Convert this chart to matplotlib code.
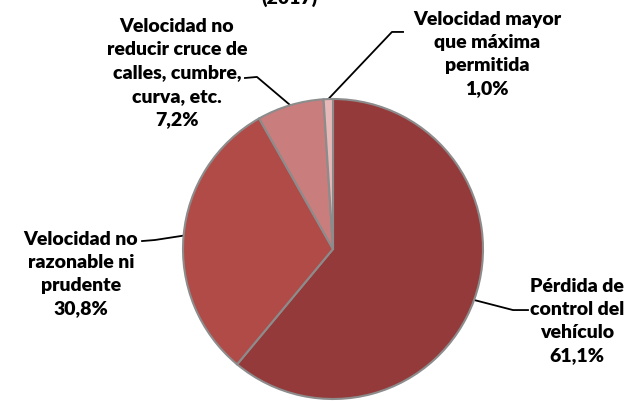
import matplotlib
matplotlib.use("Agg")
import matplotlib.pyplot as plt
import numpy as np

# porcentajes por causa (2017)
causas = ["Pérdida de\ncontrol del\nvehículo",
          "Velocidad no\nrazonable ni\nprudente",
          "Velocidad no\nreducir cruce de\ncalles, cumbre,\ncurva, etc.",
          "Velocidad mayor\nque máxima\npermitida"]
porcentajes = [61.1, 30.8, 7.2, 1.0]
etiquetas_pct = ["61,1%", "30,8%", "7,2%", "1,0%"]
colores = ["#953A3A", "#B04B48", "#C97D7C", "#E6B9B8"]

plt.rcParams['font.family'] = ['Lato', 'DejaVu Sans']

fig = plt.figure(figsize=(6.39, 4.02), dpi=100)
# centro del pastel ~ (333, 251) px, radio 150 px
ax = fig.add_axes([183 / 639, 2 / 402, 300 / 639, 300 / 402])
wedges, _ = ax.pie(porcentajes, colors=colores, startangle=90, counterclock=False,
                   wedgeprops=dict(edgecolor="#8C8C8C", linewidth=1.5))
ax.set_xlim(-1, 1)
ax.set_ylim(-1, 1)
ax.set_aspect("equal")
ax.axis("off")

# posiciones de las etiquetas y de las líneas guía (coordenadas del eje)
pos_texto = [(1.627, -0.473), (-1.68, -0.16), (-1.04, 1.18), (1.027, 1.307)]
codos = [(1.2, -0.407), (-1.187, 0.06), (-0.507, 1.147), (0.393, 1.447)]
finales = [(1.3, -0.407), (-1.273, 0.053), (-0.587, 1.14), (0.467, 1.447)]

for w, nombre, pct, pt, cd, fn in zip(wedges, causas, etiquetas_pct, pos_texto, codos, finales):
    ang = np.deg2rad((w.theta1 + w.theta2) / 2)
    x0, y0 = np.cos(ang), np.sin(ang)
    ax.plot([x0, cd[0], fn[0]], [y0, cd[1], fn[1]], color="black", lw=1.3,
            clip_on=False, zorder=0.5)
    ax.text(pt[0], pt[1], nombre + "\n" + pct, ha="center", va="center",
            fontsize=14, fontweight="heavy", linespacing=1.45)

fig.text(290 / 639, 1 - 4 / 402, "(2017)", ha="center", va="baseline",
         fontsize=14, fontweight="heavy")

fig.savefig("out.png", dpi=100)
